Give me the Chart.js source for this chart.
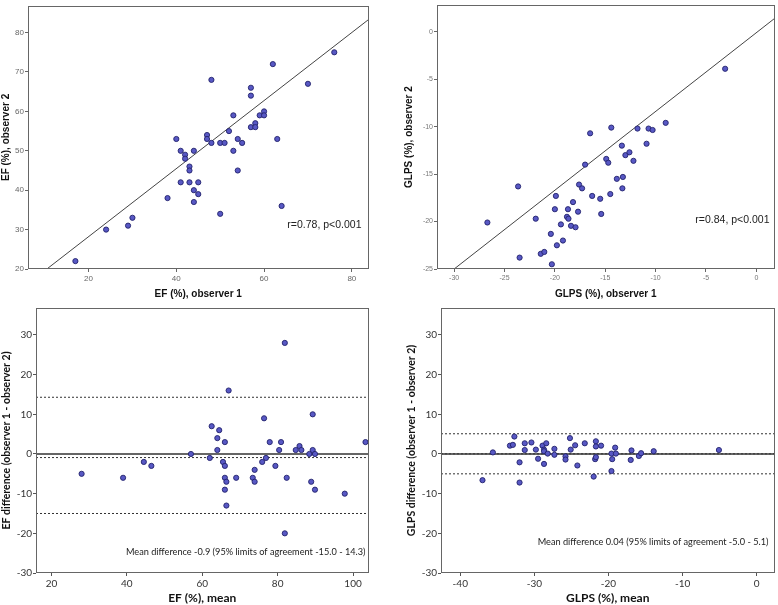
<!DOCTYPE html>
<html>
<head>
<meta charset="utf-8">
<script src="https://cdn.jsdelivr.net/npm/chart.js@4.4.1/dist/chart.umd.min.js"></script>
<style>
html,body{margin:0;padding:0;background:#fff;}
#wrap{position:relative;width:778px;height:605px;background:#fff;overflow:hidden;}
canvas{position:absolute;}
</style>
</head>
<body>
<div id="wrap">
<canvas id="c1" width="372" height="300" style="left:0;top:0;width:372px;height:300px"></canvas>
<canvas id="c2" width="390" height="300" style="left:388px;top:0;width:390px;height:300px"></canvas>
<canvas id="c3" width="372" height="305" style="left:0;top:300px;width:372px;height:305px"></canvas>
<canvas id="c4" width="390" height="305" style="left:388px;top:300px;width:390px;height:305px"></canvas>
</div>
<script>
// ---------------- DATA ----------------
// Panel A: EF observer 1 vs observer 2
const efObs1 = [17,24,29,30,38,40,41,41,42,42,43,43,43,44,44,44,45,45,47,47,48,48,50,50,51,52,53,53,54,54,55,57,57,57,58,58,59,60,60,62,63,64,70,76];
const efObs2 = [22,30,31,33,38,53,50,42,49,48,46,45,42,50,40,37,42,39,54,53,68,52,52,34,52,55,59,50,53,45,52,66,64,56,57,56,59,60,59,72,53,36,67,75];
const efFitX = [10.5, 83.8];
const efFitY = [20, 83.3];
const efXTicks = [20,40,60,80];
const efYTicks = [20,30,40,50,60,70,80];
const efXRange = [6.2, 83.8];
const efYRange = [20, 86.8];

// Panel B: GLPS observer 1 vs observer 2
const glpsObs1 = [-26.7,-23.65,-23.5,-21.9,-21.4,-21.05,-20.4,-20.3,-20.0,-19.9,-19.8,-19.4,-19.2,-18.8,-18.7,-18.65,-18.4,-18.2,-17.95,-17.7,-17.6,-17.3,-17.0,-16.5,-16.3,-15.5,-15.4,-14.9,-14.7,-14.5,-14.4,-13.85,-13.35,-13.3,-13.25,-13.0,-12.6,-12.2,-11.8,-10.9,-10.7,-10.3,-9.0,-3.1];
const glpsObs2 = [-20.1,-16.3,-23.8,-19.7,-23.4,-23.2,-21.3,-24.5,-18.7,-17.3,-22.5,-20.3,-22.0,-19.5,-18.7,-19.7,-20.45,-17.95,-20.6,-18.96,-16.1,-16.5,-14.0,-10.7,-17.3,-17.6,-19.2,-13.4,-13.8,-17.1,-10.1,-15.5,-12.0,-16.5,-15.3,-13.0,-12.7,-13.6,-10.2,-11.8,-10.2,-10.35,-9.6,-3.9];
const glpsFitX = [-30, 1.8];
const glpsFitY = [-25, 1.4];
const glpsXTicks = [-30,-25,-20,-15,-10,-5,0];
const glpsYTicks = [-25,-20,-15,-10,-5,0];
const glpsXRange = [-31.7, 1.8];
const glpsYRange = [-25, 2.8];

// Panel C: EF Bland-Altman
const efMean = [28,39,44.5,46.5,57,62,62.5,64,64,64.5,65.5,66,66,66,66,66.4,66.4,67,69,73.4,73.9,73.9,75.9,76.4,76.9,77.9,79.4,80.4,80.9,81.9,81.9,82.4,84.8,85.8,86.3,88.4,88.9,89.3,89.3,89.9,89.9,97.8,103.3];
const efDiff = [-5,-6,-2,-3,0,-1,7,4,1,6,-2,-3,3,-6,-9,-7,-13,16,-6,-6,-4,-7,-2,9,-1,3,-3,1,3,28,-20,-6,1,2,1,0,-7,10,1,0,-9,-10,3];
const efBiasLine = [-0.9];
const efLimits = [-15.0, 14.3];
const efBaXTicks = [20,40,60,80,100];
const baYTicks = [-30,-20,-10,0,10,20,30];
const efBaXRange = [15.9, 104.1];
const baYRange = [-30, 36.8];

// Panel D: GLPS Bland-Altman
const glpsMean = [-37.0,-35.6,-33.3,-32.9,-32.7,-32.0,-32.0,-31.3,-31.3,-30.4,-29.8,-29.5,-28.9,-28.7,-28.7,-28.7,-28.4,-28.2,-27.3,-27.3,-25.8,-25.8,-25.2,-25.1,-24.5,-24.2,-23.2,-22.0,-21.8,-21.7,-21.7,-21.7,-21.0,-19.6,-19.6,-19.5,-19.1,-19.0,-16.9,-17.0,-15.9,-15.6,-13.9,-5.1];
const glpsDiff = [-6.6,0.4,2.1,2.3,4.4,-2.1,-7.2,2.7,1.0,2.9,1.1,-1.2,2.1,1.1,0.7,-2.5,2.7,0.1,1.3,-0.2,-0.6,-1.4,4.0,1.1,2.2,-2.9,2.7,-5.7,-1.3,3.2,1.9,-0.8,2.1,0.1,-4.3,-1.3,1.6,0.1,0.9,-1.5,-0.5,0.2,0.7,1.0];
const glpsBiasLine = [0.04];
const glpsLimits = [-5.0, 5.1];
const glpsBaXTicks = [-40,-30,-20,-10,0];
const glpsBaXRange = [-42.6, 2.4];

// ---------------- RENDERING ----------------
const DOT_FILL = '#5858c4';
const DOT_EDGE = '#23236c';

function pts(xs, ys){ return xs.map((x,i)=>({x:x, y:ys[i]})); }

const boxPlugin = {
  id:'boxAndNote',
  afterDraw(chart){
    const o = chart.options.plugins.boxAndNote;
    const ctx = chart.ctx, a = chart.chartArea;
    ctx.save();
    ctx.strokeStyle = o.boxColor;
    ctx.lineWidth = 1;
    ctx.strokeRect(Math.round(a.left)+0.5, Math.round(a.top)+0.5, Math.round(a.right-a.left)-1, Math.round(a.bottom-a.top)-1);
    ctx.fillStyle = o.noteColor;
    ctx.font = o.noteFont;
    ctx.textAlign = 'right';
    ctx.textBaseline = 'middle';
    ctx.fillText(o.note, a.right - o.noteDx, a.bottom - o.noteDy);
    ctx.restore();
  }
};

function panel(id, cfg){
  const datasets = [{
    data: pts(cfg.xs, cfg.ys),
    backgroundColor: DOT_FILL, borderColor: DOT_EDGE,
    borderWidth: 0.9, pointRadius: 2.6, pointHoverRadius: 2.6
  }];
  cfg.lines.forEach(l=>{
    datasets.push({
      data: pts(l.x, l.y), showLine: true, pointRadius: 0,
      borderColor: l.color, borderWidth: l.width, borderDash: l.dash || [],
      fill: false, clip: 0
    });
  });
  const tickFont = cfg.tickFont;
  return new Chart(document.getElementById(id), {
    type: 'scatter',
    data: { datasets },
    plugins: [boxPlugin],
    options: {
      responsive: false, animation: false, devicePixelRatio: 1,
      events: [],
      layout: { padding: { top: cfg.pad.top, right: cfg.pad.right, left: 0, bottom: 0 } },
      plugins: {
        legend: { display: false }, tooltip: { enabled: false },
        boxAndNote: cfg.note
      },
      scales: {
        x: {
          type: 'linear', min: cfg.xRange[0], max: cfg.xRange[1],
          afterBuildTicks: s => { s.ticks = cfg.xTicks.map(v=>({value:v})); },
          afterFit: s => { s.height = cfg.bottomH; },
          grid: { drawOnChartArea: false, drawTicks: true, tickLength: 3, color: cfg.tickMarkColor, lineWidth: 1 },
          border: { display: false },
          ticks: { font: tickFont, color: cfg.tickColor, padding: 2, maxRotation: 0, autoSkip: false },
          title: { display: true, text: cfg.xTitle, font: cfg.titleFont, color: '#111', padding: { top: cfg.xTitlePad, bottom: 0 } }
        },
        y: {
          type: 'linear', min: cfg.yRange[0], max: cfg.yRange[1],
          afterBuildTicks: s => { s.ticks = cfg.yTicks.map(v=>({value:v})); },
          afterFit: s => { s.width = cfg.leftW; },
          grid: { drawOnChartArea: false, drawTicks: true, tickLength: 3, color: cfg.tickMarkColor, lineWidth: 1 },
          border: { display: false },
          ticks: { font: tickFont, color: cfg.tickColor, padding: 1, autoSkip: false },
          title: { display: true, text: cfg.yTitle, font: cfg.yTitleFont || cfg.titleFont, color: '#111', padding: { top: cfg.yTitlePad, bottom: 0 } }
        }
      }
    }
  });
}

const topTitle = { family: '"Liberation Sans", Arial, sans-serif', size: 10, weight: 'bold' };
const botTitle = { family: 'Lato, "Open Sans", sans-serif', size: 12, weight: 'bold' };
const botYTitle = { family: 'Lato, "Open Sans", sans-serif', size: 10.5, weight: 'bold' };

panel('c1', {
  xs: efObs1, ys: efObs2,
  lines: [{ x: efFitX, y: efFitY, color: '#444', width: 1 }],
  xRange: efXRange, yRange: efYRange, xTicks: efXTicks, yTicks: efYTicks,
  pad: { top: 1, right: 2 }, leftW: 28, bottomH: 31,
  tickFont: { family: '"Liberation Sans", Arial, sans-serif', size: 8 }, tickColor: '#666', tickMarkColor: '#666',
  titleFont: topTitle, xTitle: 'EF (%), observer 1', yTitle: 'EF (%), observer 2',
  xTitlePad: 2, yTitlePad: 0,
  note: { boxColor: '#666', note: 'r=0.78, p<0.001', noteFont: '10.5px "Liberation Sans", Arial, sans-serif', noteColor: '#222', noteDx: 7, noteDy: 44 }
});

panel('c2', {
  xs: glpsObs1, ys: glpsObs2,
  lines: [{ x: glpsFitX, y: glpsFitY, color: '#444', width: 1 }],
  xRange: glpsXRange, yRange: glpsYRange, xTicks: glpsXTicks, yTicks: glpsYTicks,
  pad: { top: 1, right: 2 }, leftW: 49, bottomH: 31,
  tickFont: { family: '"Liberation Sans", Arial, sans-serif', size: 7 }, tickColor: '#777', tickMarkColor: '#666',
  titleFont: topTitle, xTitle: 'GLPS (%), observer 1', yTitle: 'GLPS (%), observer 2',
  xTitlePad: 2, yTitlePad: 15,
  note: { boxColor: '#666', note: 'r=0.84, p<0.001', noteFont: '10.5px "Liberation Sans", Arial, sans-serif', noteColor: '#222', noteDx: 5, noteDy: 49 }
});

panel('c3', {
  xs: efMean, ys: efDiff,
  lines: [
    { x: efBaXRange, y: [0,0], color: '#333', width: 1.4 },
    { x: efBaXRange, y: [efBiasLine[0], efBiasLine[0]], color: '#333', width: 1, dash: [2,2] },
    { x: efBaXRange, y: [efLimits[0], efLimits[0]], color: '#333', width: 1, dash: [2,2] },
    { x: efBaXRange, y: [efLimits[1], efLimits[1]], color: '#333', width: 1, dash: [2,2] }
  ],
  xRange: efBaXRange, yRange: baYRange, xTicks: efBaXTicks, yTicks: baYTicks,
  pad: { top: 8, right: 2 }, leftW: 36, bottomH: 32,
  tickFont: { family: 'Lato, "Open Sans", sans-serif', size: 10 }, tickColor: '#333', tickMarkColor: '#555',
  titleFont: botTitle, yTitleFont: botYTitle, xTitle: 'EF (%), mean', yTitle: 'EF difference (observer 1 - observer 2)',
  xTitlePad: 2, yTitlePad: 0,
  note: { boxColor: '#666', note: 'Mean difference -0.9 (95% limits of agreement -15.0 - 14.3)', noteFont: '9.2px Lato, "Open Sans", sans-serif', noteColor: '#222', noteDx: 3, noteDy: 21 }
});

panel('c4', {
  xs: glpsMean, ys: glpsDiff,
  lines: [
    { x: glpsBaXRange, y: [0,0], color: '#333', width: 1.4 },
    { x: glpsBaXRange, y: [glpsBiasLine[0], glpsBiasLine[0]], color: '#333', width: 1, dash: [2,2] },
    { x: glpsBaXRange, y: [glpsLimits[0], glpsLimits[0]], color: '#333', width: 1, dash: [2,2] },
    { x: glpsBaXRange, y: [glpsLimits[1], glpsLimits[1]], color: '#333', width: 1, dash: [2,2] }
  ],
  xRange: glpsBaXRange, yRange: baYRange, xTicks: glpsBaXTicks, yTicks: baYTicks,
  pad: { top: 8, right: 2 }, leftW: 53, bottomH: 32,
  tickFont: { family: 'Lato, "Open Sans", sans-serif', size: 10 }, tickColor: '#333', tickMarkColor: '#555',
  titleFont: botTitle, yTitleFont: botYTitle, xTitle: 'GLPS (%), mean', yTitle: 'GLPS difference (observer 1 - observer 2)',
  xTitlePad: 2, yTitlePad: 17,
  note: { boxColor: '#666', note: 'Mean difference 0.04 (95% limits of agreement -5.0 - 5.1)', noteFont: '9.2px Lato, "Open Sans", sans-serif', noteColor: '#222', noteDx: 6, noteDy: 31 }
});
</script>
</body>
</html>
